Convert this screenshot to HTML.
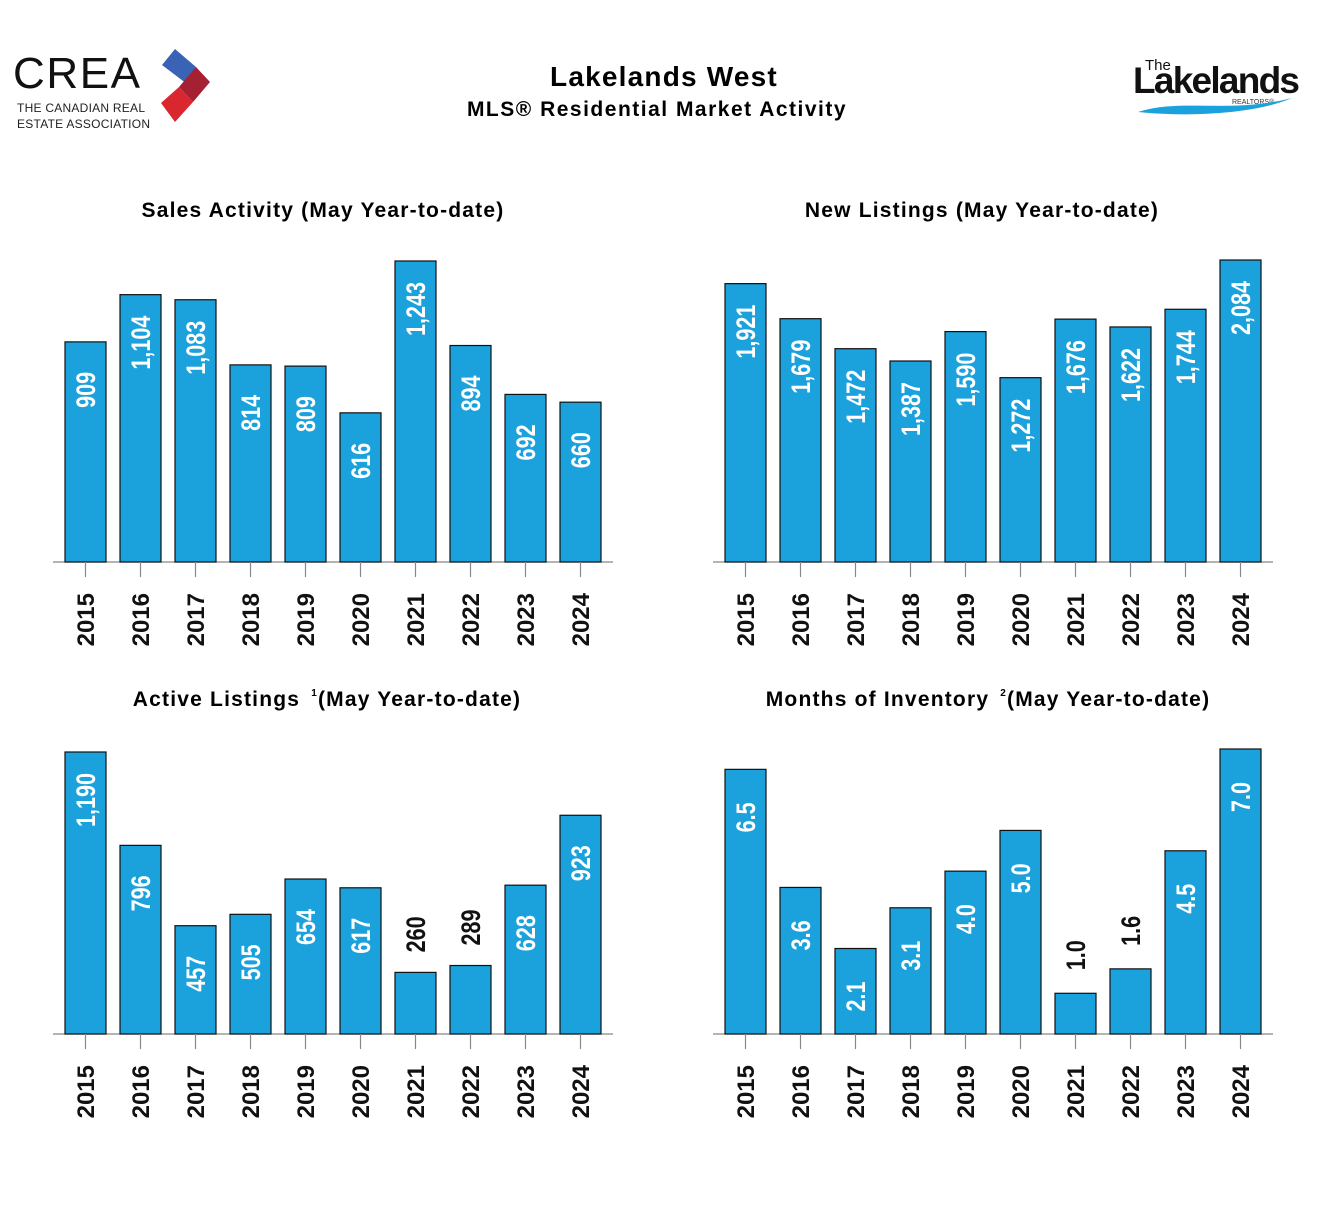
<!DOCTYPE html>
<html><head><meta charset="utf-8">
<style>
body{margin:0;background:#fff;width:1342px;height:1206px;overflow:hidden;font-family:"Liberation Sans",sans-serif;}
svg{position:absolute;left:0;top:0}
</style></head>
<body>
<svg width="1342" height="1206" xmlns="http://www.w3.org/2000/svg" id="root">
  <g>
    <text x="13" y="88" font-size="44" font-family="Liberation Sans,sans-serif" fill="#111" letter-spacing="-1" textLength="126">CREA</text>
    <text x="17" y="112" font-size="12" fill="#222" textLength="128">THE CANADIAN REAL</text>
    <text x="17" y="128" font-size="12" fill="#222" textLength="133">ESTATE ASSOCIATION</text>
    <polygon points="175,49 196,67 187,84 162,65" fill="#3a63b5"/>
    <polygon points="196,67 210,82 193,102 179,87" fill="#a62033"/>
    <polygon points="179,87 193,102 175,122 161,103" fill="#d9262f"/>
  </g>
  <g>
    <text x="664" y="86" font-size="28" font-weight="bold" text-anchor="middle" letter-spacing="1.2">Lakelands West</text>
    <text x="657" y="116" font-size="21" font-weight="bold" text-anchor="middle" letter-spacing="1.5">MLS® Residential Market Activity</text>
  </g>
  <g>
    <text x="1145" y="70" font-size="15" fill="#111">The</text>
    <text x="1133" y="93" font-size="37" font-weight="bold" fill="#111" textLength="167">Lakelands</text>
    <text x="1232" y="104" font-size="7" fill="#333">REALTORS®</text>
    <path d="M1138,112 C1180,98 1230,114 1292,98 C1260,112 1200,118 1138,112Z" fill="#1ba2dc"/>
  </g>
  <g id="charts"></g>
</svg>
<script>
const years = ["2015","2016","2017","2018","2019","2020","2021","2022","2023","2024"];
const salesValues = [909,1104,1083,814,809,616,1243,894,692,660];
const salesLabels = ["909","1,104","1,083","814","809","616","1,243","894","692","660"];
const newListingsValues = [1921,1679,1472,1387,1590,1272,1676,1622,1744,2084];
const newListingsLabels = ["1,921","1,679","1,472","1,387","1,590","1,272","1,676","1,622","1,744","2,084"];
const activeValues = [1190,796,457,505,654,617,260,289,628,923];
const activeLabels = ["1,190","796","457","505","654","617","260","289","628","923"];
const moiValues = [6.5,3.6,2.1,3.1,4.0,5.0,1.0,1.6,4.5,7.0];
const moiLabels = ["6.5","3.6","2.1","3.1","4.0","5.0","1.0","1.6","4.5","7.0"];

const NS="http://www.w3.org/2000/svg";
const root=document.getElementById('charts');
function mk(tag,attrs,parent){const e=document.createElementNS(NS,tag);for(const k in attrs)e.setAttribute(k,attrs[k]);parent.appendChild(e);return e;}

function chart(name,title,sup,titleX,titleY,x0,base,vals,labels,maxV,maxH){
  const g=mk('g',{},root);
  
  
  const t=mk('text',{x:titleX,y:titleY,'font-size':21,'font-weight':'bold','text-anchor':'middle','letter-spacing':1.2},g);
  
  
  if(sup){
    t.innerHTML=title[0]+'<tspan font-size="10" dy="-10" dx="4">'+sup+'</tspan><tspan dy="10">'+title[1]+'</tspan>';
  } else t.textContent=title;
  const yScale=v=>v/maxV*maxH;
  const ax=mk('line',{x1:x0-12,x2:x0+548,y1:base,y2:base,stroke:'#888','stroke-width':1.2},g);
  
  
  vals.forEach((v,i)=>{
    const bx=x0+i*55, cx=bx+20.5, h=yScale(v), top=base-h;
    const r=mk('rect',{x:bx,y:top,width:41,height:h,fill:'#1ba1dc',stroke:'#111','stroke-width':1.2},g);
    
    
    const tk=mk('line',{x1:cx,x2:cx,y1:base,y2:base+15,stroke:'#888','stroke-width':1.2},g);
    
    
    const yl=mk('text',{'font-size':24,'font-weight':'bold','text-anchor':'end',fill:'#111'},g);
    yl.setAttribute('transform',`translate(${cx+8.5},${base+31}) rotate(-90)`);
    yl.textContent=years[i];
    
    
    const inside=h>75;
    const cy=inside?top+48:top-38;
    const vl=mk('text',{transform:`translate(${cx+9.5},${cy}) rotate(-90) scale(0.8,1)`,'font-size':27,'font-weight':'bold','text-anchor':'middle',fill:inside?'#fff':'#111'},g);
    vl.textContent=labels[i];
    
    
  });
}
chart('sales-chart','Sales Activity (May Year-to-date)',null,323,217,65,562,salesValues,salesLabels,1243,301);
chart('new-listings-chart','New Listings (May Year-to-date)',null,982,217,725,562,newListingsValues,newListingsLabels,2084,302);
chart('active-listings-chart',['Active Listings ','(May Year-to-date)'],'1',327,706,65,1034,activeValues,activeLabels,1190,282);
chart('months-inventory-chart',['Months of Inventory ','(May Year-to-date)'],'2',988,706,725,1034,moiValues,moiLabels,7.0,285);
</script>
</body></html>
